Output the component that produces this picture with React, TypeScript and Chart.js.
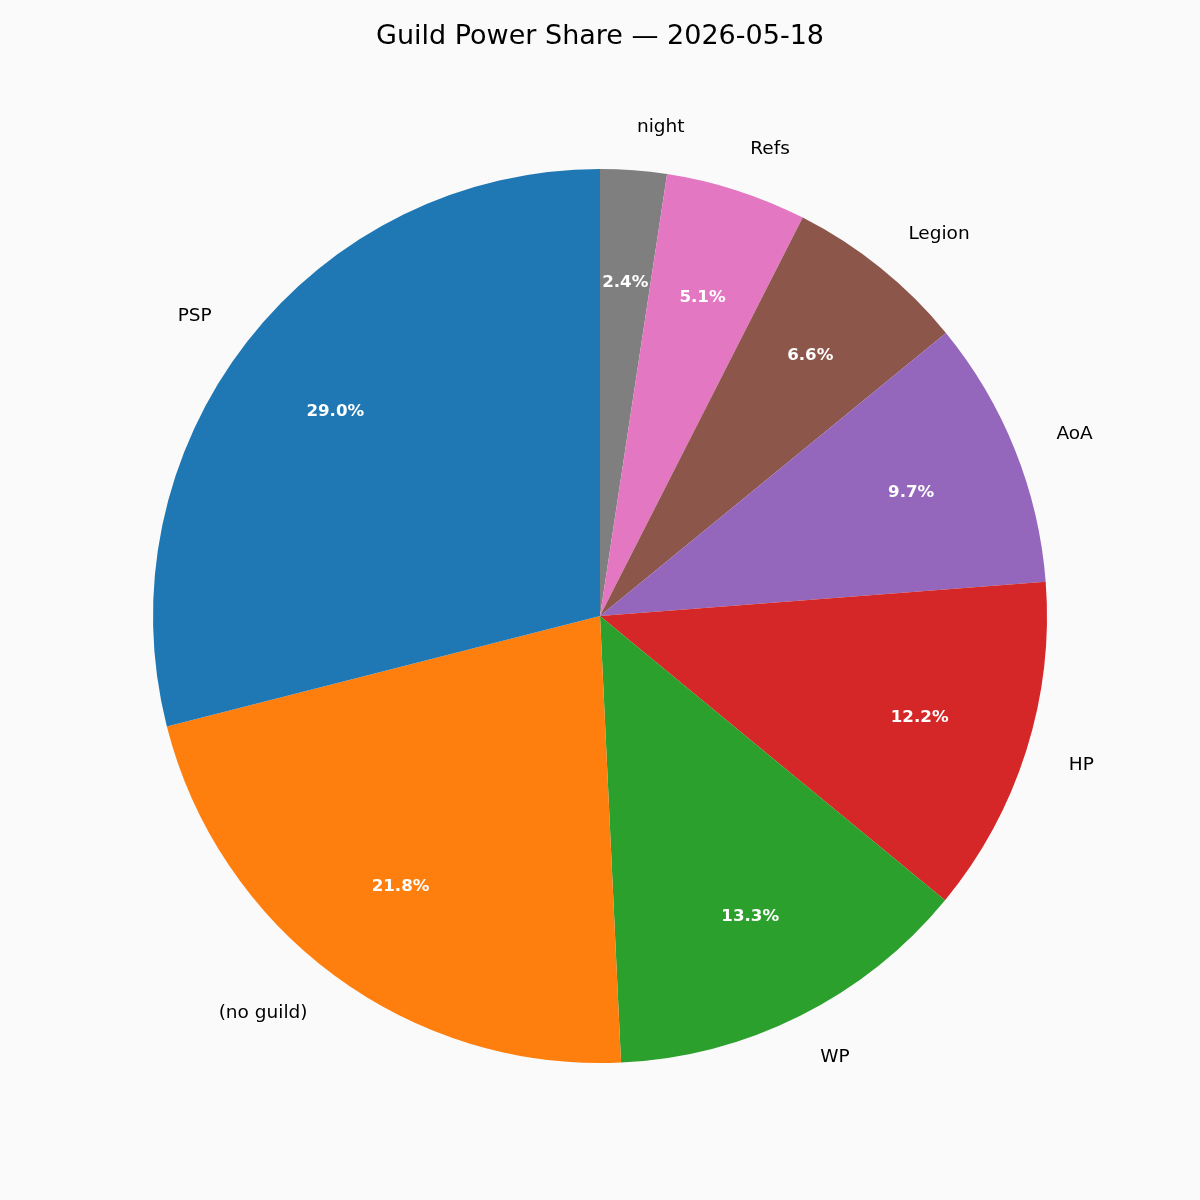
import React, { useEffect, useRef } from "react";
import { Chart, registerables, Plugin } from "chart.js";

Chart.register(...registerables);

// matplotlib goes counter-clockwise from the top, Chart.js clockwise,
// so the slices are listed here in reverse order
const guilds = ["night", "Refs", "Legion", "AoA", "HP", "WP", "(no guild)", "PSP"];
const shares = [2.4, 5.1, 6.6, 9.7, 12.2, 13.3, 21.8, 29.0];
const colors = ["#7f7f7f", "#e377c2", "#8c564b", "#9467bd", "#d62728", "#2ca02c", "#ff7f0e", "#1f77b4"];
const chartTitle = "Guild Power Share \u2014 2026-05-18";

const FONT = "'DejaVu Sans', sans-serif";

const pieText: Plugin<"pie"> = {
  id: "pieText",
  beforeDraw(chart) {
    const { ctx, width } = chart;
    ctx.save();
    ctx.fillStyle = "#fafafa";
    ctx.fillRect(0, 0, chart.width, chart.height);
    ctx.fillStyle = "#000";
    ctx.font = `27px ${FONT}`;
    ctx.textAlign = "center";
    ctx.textBaseline = "middle";
    ctx.fillText(chartTitle, width / 2, 37);
    ctx.restore();
  },
  afterDatasetsDraw(chart) {
    const { ctx } = chart;
    const meta = chart.getDatasetMeta(0);
    const total = shares.reduce((a, b) => a + b, 0);
    ctx.save();
    ctx.textBaseline = "middle";
    meta.data.forEach((el: any, i) => {
      const { x, y, startAngle, endAngle, outerRadius } = el.getProps(
        ["x", "y", "startAngle", "endAngle", "outerRadius"],
        true
      );
      const mid = (startAngle + endAngle) / 2;
      const c = Math.cos(mid);
      const s = Math.sin(mid);
      // percentage inside
      ctx.font = `bold 16.67px ${FONT}`;
      ctx.fillStyle = "#fff";
      ctx.textAlign = "center";
      const pct = ((shares[i] / total) * 100).toFixed(1) + "%";
      ctx.fillText(pct, x + c * outerRadius * 0.75, y + s * outerRadius * 0.75 + 1);
      // label outside
      ctx.font = `18.5px ${FONT}`;
      ctx.fillStyle = "#000";
      ctx.textAlign = c > 0 ? "left" : "right";
      ctx.fillText(guilds[i], x + c * outerRadius * 1.1, y + s * outerRadius * 1.1 + 1.5);
    });
    ctx.restore();
  },
};

export default function App() {
  const ref = useRef<HTMLCanvasElement>(null);
  useEffect(() => {
    document.body.style.margin = "0";
    const ctx = ref.current?.getContext("2d");
    if (!ctx) return;
    const chart = new Chart(ctx, {
      type: "pie",
      data: {
        labels: guilds,
        datasets: [
          {
            data: shares,
            backgroundColor: colors,
            borderWidth: 0,
          },
        ],
      },
      options: {
        animation: false,
        responsive: true,
        maintainAspectRatio: false,
        layout: { padding: { top: 169, bottom: 137, left: 153, right: 153 } },
        plugins: {
          legend: { display: false },
          tooltip: { enabled: false },
          title: { display: false },
        },
      },
      plugins: [pieText],
    });
    return () => {
      chart.destroy();
    };
  }, []);

  return (
    <div style={{ width: 1200, height: 1200, position: "relative", background: "#fafafa" }}>
      <canvas ref={ref} />
    </div>
  );
}
